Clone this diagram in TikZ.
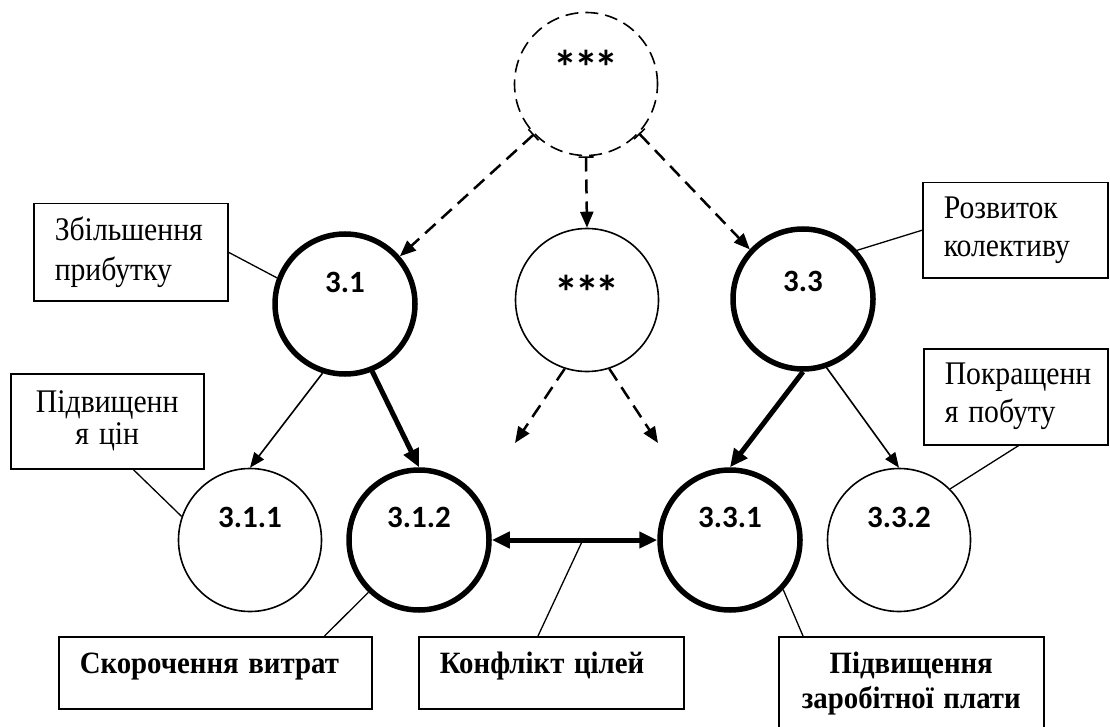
\documentclass[tikz,border=0pt]{standalone}
\usepackage{fontspec}
\setmainfont{Liberation Serif}
\newfontfamily\labfont{Carlito}
\usetikzlibrary{arrows.meta}
\newcommand{\cnd}[1]{\scalebox{0.9}[1]{#1}}
\newcommand{\bcnd}[1]{\scalebox{0.93}[1]{#1}}
\newcommand{\stars}{*\kern-3pt*\kern-3pt*}
\begin{document}
\begin{tikzpicture}[x=1pt,y=-1pt,
  circ/.style={circle, draw, line width=1.6pt, minimum size=143pt, inner sep=0pt},
  thickc/.style={circ, line width=5.5pt, minimum size=140pt},
  dashc/.style={circ, dash pattern=on 13pt off 7pt, line width=1.6pt},
  lbl/.style={font=\labfont\bfseries\fontsize{31}{36}\selectfont, inner sep=0pt},
  star/.style={font=\labfont\bfseries\fontsize{48}{50}\selectfont, inner sep=0pt},
  box/.style={draw, line width=1.5pt, rectangle, anchor=north west, inner xsep=21pt, inner ysep=0pt},
  plain/.style={box, font=\fontsize{33}{38}\selectfont},
  boldbox/.style={box, font=\bfseries\fontsize{31}{35}\selectfont, inner ysep=15pt},
  conn/.style={line width=1.3pt},
  thinarr/.style={line width=1.6pt, -{Triangle[length=15pt,width=12pt]}},
  thickarr/.style={line width=5pt, -{Triangle[length=18pt,width=16pt]}},
  dasharr/.style={line width=2.5pt, dash pattern=on 14pt off 8pt, -{Triangle[length=16pt,width=13pt]}},
  dashbar/.style={dasharr, {Bar[width=15pt,line width=1.6pt]}-{Triangle[length=16pt,width=13pt]}}
]
\useasboundingbox (0,0) rectangle (1110,727);
\clip (0,0) rectangle (1110,727);

% circles
\node[dashc] (ctop) at (586,84) {};
\node[circ] (cmid) at (587,300) {};
\node[thickc] (c31) at (345,304) {};
\node[thickc] (c33) at (803,299) {};
\node[circ] (c311) at (250,540) {};
\node[thickc] (c312) at (419,540) {};
\node[thickc] (c331) at (730,540) {};
\node[circ] (c332) at (899,540) {};

% circle labels
\node[star] (ttop) at ([yshift=17pt]ctop.center) {\stars};
\node[star] (tmid) at ([yshift=8pt]cmid.center) {\stars};
\node[lbl] (t31) at ([yshift=22pt]c31.center) {3.1};
\node[lbl] (t33) at ([yshift=18pt]c33.center) {3.3};
\node[lbl] (t311) at ([yshift=23pt]c311.center) {3.1.1};
\node[lbl] (t312) at ([yshift=23pt]c312.center) {3.1.2};
\node[lbl] (t331) at ([yshift=23pt]c331.center) {3.3.1};
\node[lbl] (t332) at ([yshift=23pt]c332.center) {3.3.2};

% boxes
\node[plain, font=\fontsize{33}{40}\selectfont, minimum width=194pt, minimum height=97pt, text width=152pt, align=left] (b1) at (33,203)
  {\cnd{Збільшення}\\ \cnd{прибутку}};
\node[plain, font=\fontsize{33}{32}\selectfont, minimum width=193pt, minimum height=95pt, text width=151pt, align=center] (b2) at (10,373)
  {\cnd{Підвищенн}\\ \cnd{я цін}};
\node[plain, minimum width=185pt, minimum height=95pt, text width=143pt, align=left] (b3) at (922,182)
  {\cnd{Розвиток}\\ \cnd{колективу}};
\node[plain, minimum width=184pt, minimum height=96pt, text width=142pt, align=left] (b4) at (923,348)
  {\cnd{Покращенн}\\ \cnd{я побуту}};
\node[boldbox, text width=271pt, align=left, text height=22pt, text depth=20pt] (b5) at (58,636)
  {\bcnd{Скорочення витрат}};
\node[boldbox, text width=223pt, align=left, text height=22pt, text depth=20pt] (b6) at (418,636)
  {\bcnd{Конфлікт цілей}};
\node[boldbox, text width=223pt, align=center] (b7) at (778,636)
  {\bcnd{Підвищення}\\ \bcnd{заробітної плати}};

% free ends
\coordinate (m1) at (515,443);
\coordinate (m2) at (658,443);

% dashed arrows
\draw[dashbar] (ctop.224) -- (c31.41);
\draw[dashbar] (ctop.south) -- (cmid.north);
\draw[dashbar] (ctop.317) -- (c33.137);
\draw[dasharr] (cmid.252) -- (m1);
\draw[dasharr] (cmid.288) -- (m2);

% solid arrows
\draw[thinarr] (c31.252) -- (c311.north);
\draw[thickarr] (c31.292) -- (c312.north);
\draw[thickarr] (c33.270) -- (c331.north);
\draw[thinarr] (c33.289) -- (c332.north);

% conflict double arrow
\draw[line width=5pt, {Triangle[length=18pt,width=16pt]}-{Triangle[length=18pt,width=16pt]}]
  (c312.east) -- coordinate[pos=0.55] (cf) (c331.west);

% box connectors
\draw[conn] (b1.east) -- (c31.159);
\draw[conn] ([xshift=26pt]b2.south) -- (c311.161);
\draw[conn] (b3.west) -- (c33.42);
\draw[conn] ([xshift=3pt]b4.south) -- (c332.45);
\draw[conn] ([xshift=-48pt]b5.north east) -- (c312.226);
\draw[conn] ([xshift=120pt]b6.north west) -- (cf);
\draw[conn] ([xshift=25pt]b7.north west) -- (c331.317);
\end{tikzpicture}
\end{document}
